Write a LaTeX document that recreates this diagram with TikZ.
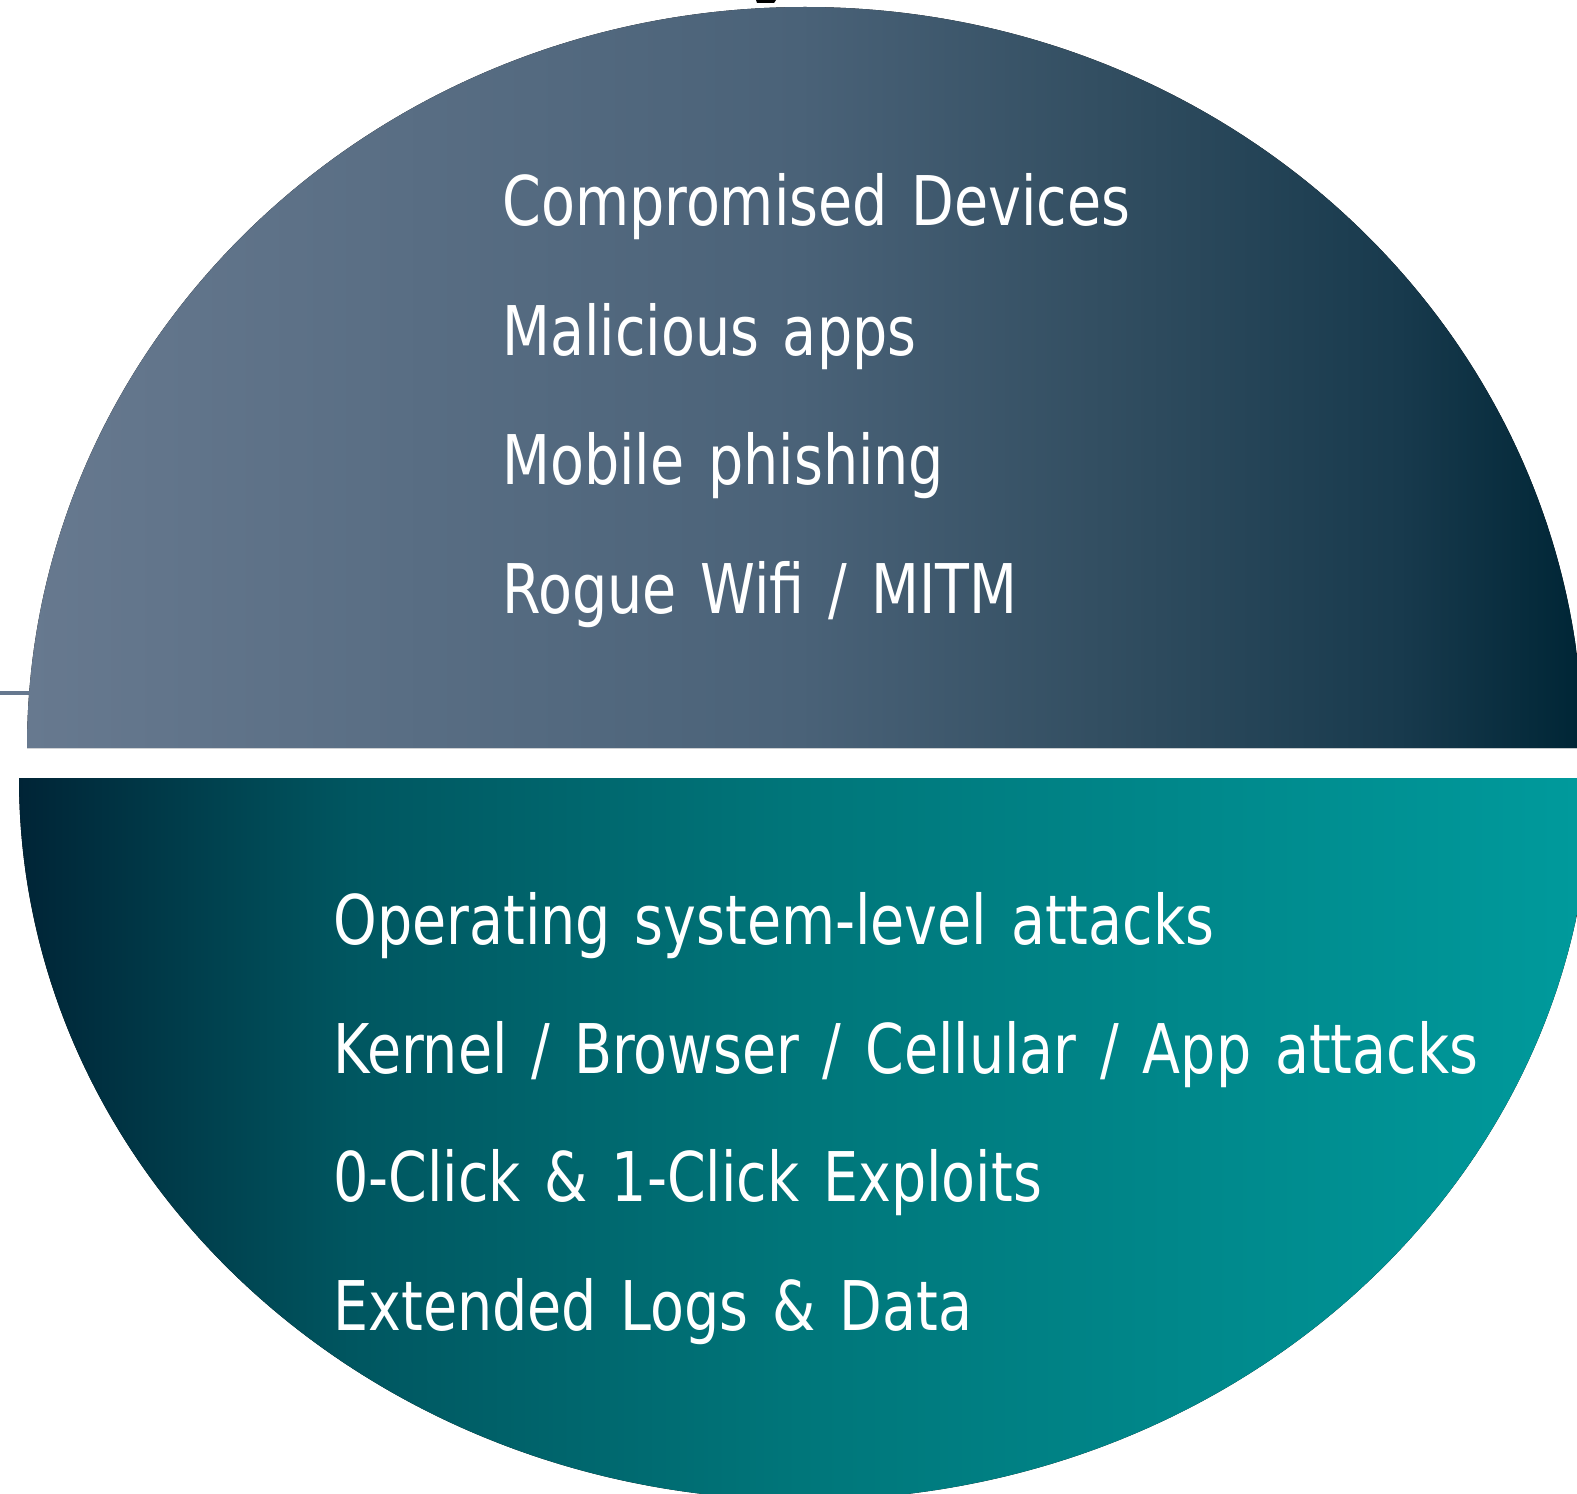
\documentclass[tikz,border=0pt]{standalone}
\usepackage{fontspec}
\setmainfont{DejaVu Sans}[FakeStretch=0.81, WordSpace=1.35]
\usetikzlibrary{positioning}

\definecolor{TopA}{RGB}{103,121,143}
\definecolor{TopB}{RGB}{74,98,120}
\definecolor{TopC}{RGB}{50,78,97}
\definecolor{TopD}{RGB}{24,58,77}
\definecolor{TopE}{RGB}{0,38,54}
\definecolor{BotA}{RGB}{0,36,54}
\definecolor{BotB}{RGB}{0,86,96}
\definecolor{BotC}{RGB}{0,118,122}
\definecolor{BotD}{RGB}{0,154,156}
\definecolor{StubGray}{RGB}{102,120,143}

\pgfdeclarehorizontalshading{TopShade}{100bp}{color(0bp)=(TopA); color(25bp)=(TopA);
  color(49.8bp)=(TopB); color(59.6bp)=(TopC); color(69.1bp)=(TopD); color(74.8bp)=(TopE); color(100bp)=(TopE)}
\pgfdeclarehorizontalshading{BotShade}{100bp}{color(0bp)=(BotA); color(25bp)=(BotA);
  color(35.5bp)=(BotB); color(49.8bp)=(BotC); color(74.6bp)=(BotD); color(100bp)=(BotD)}

\begin{document}
\begin{tikzpicture}[
		x=0.02cm, y=0.02cm,
		ItemCfg/.style={
			text=white,
			inner sep=0pt,
			anchor=base west,
			font=\fontsize{39}{47}\selectfont
		}
		]
		
		\useasboundingbox (0,0) rectangle (1577,-1493);
		\clip (0,0) rectangle (1577,-1493);
		
		\coordinate (stub) at (0,-693);
		\draw [StubGray, line width=0.07cm] (stub) --++ (40,0);
		\fill (756,0) -- (776,0) -- (774,-3) -- (757,-3) -- cycle;
		
		\fill [shading=TopShade]
		(27,-748) arc [start angle=180, end angle=0, x radius=778, y radius=741] -- cycle;
		\fill [shading=BotShade]
		(19,-778) arc [start angle=180, end angle=360, x radius=786, y radius=722] -- cycle;
		
		\path 
		(502,-226) node [ItemCfg] (CD) {Compromised Devices}
		++ (0,-129) node [ItemCfg] (MA) {Malicious apps}
		++ (0,-129) node [ItemCfg] (MP) {Mobile phishing}
		++ (0,-129) node [ItemCfg] (RW) {Rogue Wifi / MITM};
		
		\path 
		(333,-944) node [ItemCfg] (OS) {Operating system-level attacks}
		++ (0,-129) node [ItemCfg] (KB) {Kernel / Browser / Cellular / App attacks}
		++ (0,-128) node [ItemCfg] (CE) {0-Click \& 1-Click Exploits}
		++ (0,-129) node [ItemCfg] (EL) {Extended Logs \& Data};
		\end{tikzpicture}
\end{document}
